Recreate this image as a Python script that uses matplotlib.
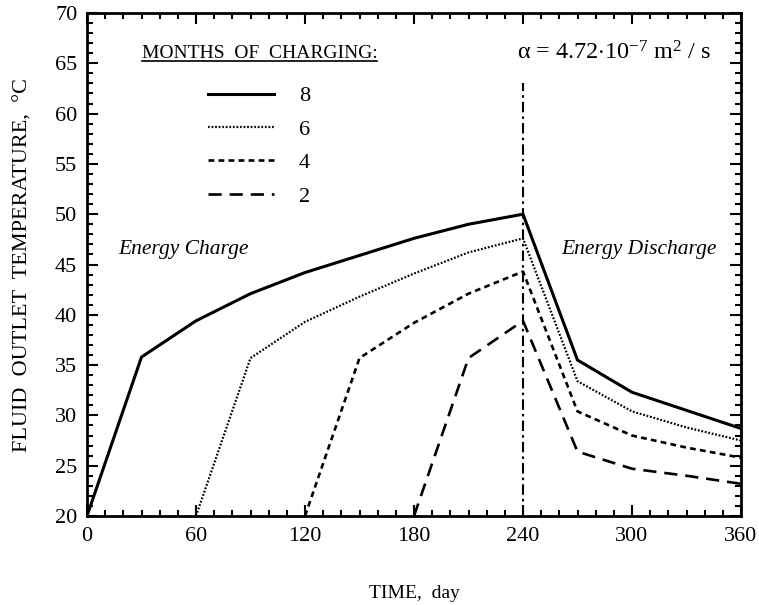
import matplotlib
matplotlib.use("Agg")
import matplotlib.pyplot as plt
from matplotlib.lines import Line2D

plt.rcParams['font.family'] = ['Liberation Serif', 'DejaVu Serif']
plt.rcParams['mathtext.fontset'] = 'custom'
plt.rcParams['mathtext.rm'] = 'Liberation Serif'
plt.rcParams['mathtext.it'] = 'Liberation Serif:italic'

# ---- data ----
days_8 = [0, 30, 60, 90, 120, 150, 180, 210, 240, 270, 300, 330, 360]
temp_8 = [20, 35.8, 39.4, 42.1, 44.2, 45.9, 47.6, 49.0, 50.0, 35.5, 32.3, 30.5, 28.7]
days_6 = [60, 90, 120, 150, 180, 210, 240, 270, 300, 330, 360]
temp_6 = [20, 35.7, 39.3, 41.8, 44.1, 46.2, 47.6, 33.4, 30.4, 28.8, 27.5]
days_4 = [120, 150, 180, 210, 240, 270, 300, 330, 360]
temp_4 = [20, 35.7, 39.2, 42.1, 44.3, 30.4, 28.0, 26.8, 25.8]
days_2 = [180, 210, 240, 270, 300, 330, 360]
temp_2 = [20, 35.7, 39.4, 26.4, 24.7, 24.0, 23.2]
series_labels = ['8', '6', '4', '2']
switch_day = 240
switch_top = 63
x_ticks = [0, 60, 120, 180, 240, 300, 360]
y_ticks = [20, 25, 30, 35, 40, 45, 50, 55, 60, 65, 70]

fig = plt.figure(figsize=(7.59, 6.05), dpi=100)
ax = fig.add_axes([87/759, 1-516/605, (741-87)/759, (516-13)/605])

l8, = ax.plot(days_8, temp_8, color='black', lw=2.2, solid_joinstyle='miter')
l6, = ax.plot(days_6, temp_6, color='black', lw=1.6, dashes=(0.8, 0.8))
l4, = ax.plot(days_4, temp_4, color='black', lw=1.9, dashes=(2.2, 1.6))
l2, = ax.plot(days_2, temp_2, color='black', lw=1.9, dashes=(5, 3))
ax.plot([switch_day, switch_day], [20, switch_top], color='black', lw=1.5,
        dashes=(5, 2, 1.2, 2))

ax.set_xlim(0, 360)
ax.set_ylim(20, 70)
ax.set_xticks(x_ticks)
ax.set_yticks(y_ticks)
ax.set_xticks(range(0, 361, 10), minor=True)
ax.set_yticks(range(20, 71, 1), minor=True)
ax.tick_params(which='both', direction='in', top=True, right=True, width=1.5,
               labelsize=16)
ax.tick_params(axis='x', pad=8)
ax.tick_params(axis='y', pad=7)
ax.tick_params(which='major', length=8)
ax.tick_params(which='minor', length=4)
for s in ax.spines.values():
    s.set_linewidth(2)

ax.set_xlabel('TIME,  day', fontsize=14, labelpad=28)
ax.set_ylabel('FLUID  OUTLET  TEMPERATURE,  °C', fontsize=16, labelpad=16)

ax.text(17, 46.0, 'Energy Charge', fontsize=15.5, style='italic', va='baseline')
ax.text(261, 46.0, 'Energy Discharge', fontsize=15.5, style='italic', va='baseline')
ax.text(236.5, 66, r'α = 4.72$\cdot$10$^{-7}$ m$^2$ / s',
        fontsize=17.5, ha='left', va='center')

title = ax.text(30, 66, 'MONTHS  OF  CHARGING:', fontsize=14, va='center')

leg = ax.legend([l8, l6, l4, l2], series_labels, loc='upper left',
                bbox_to_anchor=(0.154, 0.895), frameon=False, fontsize=16,
                handlelength=3.0, handletextpad=1.1, labelspacing=0.58)

fig.canvas.draw()
bb = title.get_window_extent()
inv = fig.transFigure.inverted()
(x0, y0) = inv.transform((bb.x0, bb.y0 + 1))
(x1, _) = inv.transform((bb.x1, bb.y0 + 1))
fig.add_artist(Line2D([x0, x1], [y0, y0], color='black', lw=1.2, transform=fig.transFigure))

fig.savefig('out.png', dpi=100)
